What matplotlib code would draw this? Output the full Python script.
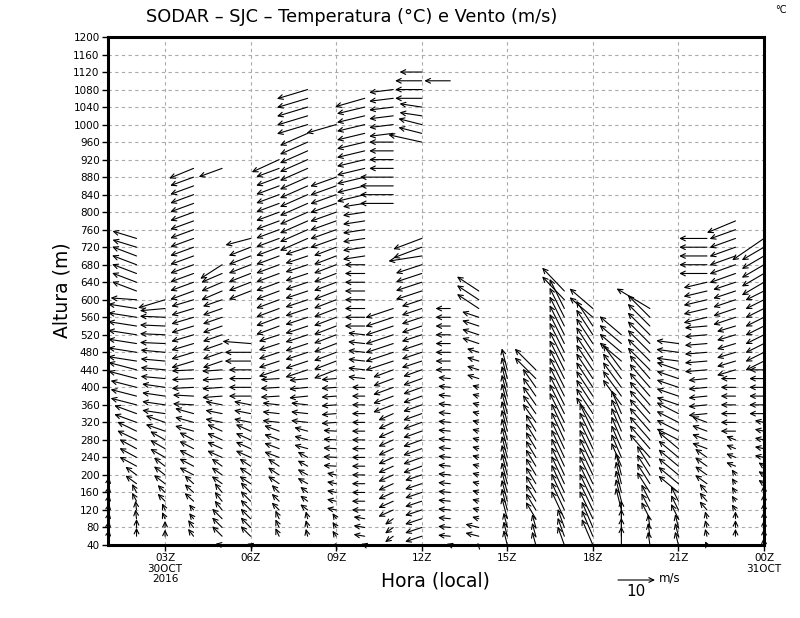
import numpy as np
import matplotlib.pyplot as plt

# perfis de vento do SODAR: (base, topo, u, v) em m/s, niveis a cada 20 m
h01 = [(60, 180, 0.3, 1.8)]
h02 = [(60, 80, 0.0, 2.3), (100, 120, -0.3, 2.5), (140, 160, -1.2, 2.3), (180, 200, -3.0, 2.2),
       (220, 260, -4.6, 2.5), (280, 300, -5.2, 2.5), (320, 340, -6.0, 2.2), (360, 400, -7.0, 1.8),
       (420, 440, -7.6, 2.0), (460, 580, -7.7, 1.2), (600, 600, -7.0, 0.5), (620, 700, -6.6, 2.5),
       (720, 740, -6.5, 2.0)]
h03 = [(60, 80, 0.0, 1.8), (100, 120, -0.8, 1.8), (140, 160, -2.0, 2.0), (180, 220, -3.0, 2.3),
       (240, 280, -4.0, 2.3), (300, 320, -5.2, 1.8), (340, 400, -6.2, 0.9), (420, 480, -6.6, 0.6),
       (500, 560, -6.8, 0.3), (580, 580, -6.8, -0.6), (600, 600, -7.3, -2.2)]
h04 = [(60, 80, -1.5, 2.0), (100, 120, -1.2, 1.5), (140, 180, -2.4, 2.2), (200, 280, -3.8, 2.0),
       (300, 340, -5.0, 1.4), (360, 380, -5.6, 0.3), (400, 440, -5.9, -0.3), (460, 600, -6.0, -1.8),
       (620, 880, -6.3, -2.3), (900, 900, -6.6, -2.7)]
h05 = [(40, 40, -1.8, 0.3), (60, 100, -2.7, 2.7), (120, 160, -2.0, 2.5), (180, 220, -2.8, 2.0),
       (240, 300, -4.0, 1.8), (320, 360, -4.5, 0.9), (380, 440, -5.4, -0.4), (460, 600, -5.2, -1.8),
       (620, 660, -5.6, -2.4), (680, 680, -5.9, -3.8), (900, 900, -6.3, -2.3)]
h06 = [(40, 40, -1.0, 0.3), (60, 160, -2.7, 2.7), (180, 220, -3.0, 2.0), (240, 300, -4.0, 1.8),
       (320, 360, -4.5, 0.9), (380, 440, -5.9, 0.0), (460, 480, -7.0, 0.0), (500, 500, -7.6, 0.6),
       (620, 720, -5.9, -2.3), (740, 740, -6.8, -1.8)]
h07 = [(60, 100, -1.0, 2.2), (120, 160, -2.0, 2.0), (180, 220, -3.0, 2.0), (240, 300, -4.0, 1.5),
       (320, 360, -4.5, 0.5), (380, 420, -5.0, -0.3), (440, 520, -5.5, -1.8), (540, 900, -6.2, -2.3),
       (920, 920, -7.4, -3.4)]
h08 = [(60, 100, -0.5, 2.0), (120, 160, -2.0, 1.5), (180, 240, -2.7, 1.5), (260, 300, -3.6, 1.0),
       (320, 360, -4.5, 0.5), (380, 420, -5.0, -0.5), (440, 720, -6.0, -2.0), (740, 980, -7.5, -3.3),
       (1000, 1080, -8.3, -2.5)]
h09 = [(40, 40, -0.5, 0.5), (60, 100, -1.0, 1.5), (120, 200, -2.5, 0.5), (220, 300, -3.5, 0.2),
       (320, 420, -4.0, -0.3), (440, 720, -6.0, -2.3), (740, 880, -7.0, -2.5), (1000, 1000, -8.0, -2.3)]
h10 = [(40, 40, -1.0, 0.3), (60, 100, -3.0, 0.5), (120, 400, -3.5, 0.0), (420, 520, -4.5, 0.5),
       (540, 680, -5.4, 0.0), (700, 820, -5.9, -0.9), (840, 1040, -7.5, -1.8), (1060, 1060, -8.0, -2.3)]
h11 = [(60, 100, -2.2, -1.6), (120, 340, -4.0, -1.8), (360, 440, -5.4, -2.0), (460, 580, -7.5, -2.5),
       (820, 880, -9.0, 0.0), (900, 960, -6.5, 0.0), (980, 1080, -6.5, -0.8)]
h12 = [(60, 200, -4.5, -1.5), (220, 440, -5.0, -1.8), (460, 600, -5.4, -1.8), (620, 680, -7.0, -2.3),
       (700, 700, -9.0, -1.4), (720, 740, -7.7, -2.9), (960, 960, -9.0, 2.0), (980, 1000, -6.3, 1.6),
       (1020, 1040, -6.0, 0.9), (1060, 1100, -7.2, 0.0), (1120, 1120, -6.0, 0.0)]
h13 = [(40, 40, -1.0, 0.3), (60, 420, -3.3, 0.3), (440, 580, -4.0, 0.0), (1100, 1100, -7.0, 0.0)]
h14 = [(40, 40, -0.5, 0.5), (60, 80, -3.6, 0.9), (100, 400, -1.8, 0.5), (420, 480, -3.2, 1.0),
       (500, 560, -4.5, 1.5), (580, 620, -5.9, 3.9)]
h15 = [(40, 80, -1.0, 4.0), (100, 440, -1.5, 5.8)]
h16 = [(40, 80, -1.0, 3.6), (100, 300, -2.7, 4.5), (320, 400, -3.5, 5.0), (420, 440, -5.7, 5.7)]
h17 = [(40, 80, -1.8, 5.0), (100, 300, -3.5, 7.5), (320, 580, -4.0, 8.0), (600, 620, -6.0, 6.3)]
h18 = [(40, 80, -3.0, 7.0), (100, 300, -3.6, 7.5), (320, 540, -4.5, 6.8), (560, 580, -6.3, 5.4)]
h19 = [(40, 100, 0.0, 5.0), (120, 200, -1.5, 6.0), (220, 340, -2.7, 6.3), (360, 440, -5.0, 6.8),
       (460, 520, -5.9, 5.0)]
h20 = [(40, 80, -0.5, 3.6), (100, 140, -2.3, 4.5), (160, 220, -3.5, 5.5), (240, 420, -5.5, 6.3),
       (440, 560, -6.0, 6.0), (580, 580, -9.0, 5.4)]
h21 = [(40, 80, -0.9, 3.6), (100, 140, -2.0, 4.0), (160, 260, -5.4, 4.5), (280, 340, -5.9, 3.0),
       (360, 440, -5.9, 2.0), (460, 500, -6.0, 0.8)]
h22 = [(40, 40, -0.5, 1.0), (60, 100, -0.5, 2.0), (120, 160, -2.0, 2.3), (180, 240, -3.2, 2.3),
       (260, 320, -4.0, 1.5), (340, 420, -5.0, -0.5), (440, 540, -6.0, -0.5), (560, 640, -6.3, -1.5),
       (660, 740, -7.5, 0.0)]
h23 = [(60, 100, 0.0, 2.0), (120, 200, -1.0, 1.5), (220, 280, -2.5, 1.0), (300, 420, -4.0, 0.0),
       (440, 540, -5.0, -1.5), (560, 640, -6.0, -2.0), (660, 760, -7.0, -2.5), (780, 780, -7.7, -3.2)]
h24 = [(40, 160, 0.0, 2.0), (180, 220, -1.5, 1.0), (240, 320, -2.5, 0.5), (340, 440, -4.0, 0.0),
       (460, 620, -5.0, -2.5), (640, 720, -6.0, -3.5), (740, 740, -8.6, -5.9)]

colunas = [h01, h02, h03, h04, h05, h06, h07, h08, h09, h10, h11, h12,
           h13, h14, h15, h16, h17, h18, h19, h20, h21, h22, h23, h24]
horas = list(range(1, 25))

xticks = [3, 6, 9, 12, 15, 18, 21, 24]
xlabels = ['03Z\n30OCT\n2016', '06Z', '09Z', '12Z', '15Z', '18Z', '21Z', '00Z\n31OCT']
yticks = list(range(40, 1201, 40))

px_ms = 3.7  # pixels por m/s (seta de referencia de 10 m/s)

fig = plt.figure(figsize=(8, 6.18), dpi=100)
ax = fig.add_axes([108/800, 73/618, 656/800, 508/618])
ax.set_xlim(1, 24)
ax.set_ylim(40, 1200)

ax.set_xticks(xticks)
ax.set_xticklabels(xlabels, fontsize=7.5, linespacing=1.05)
ax.set_yticks(yticks)
ax.set_yticklabels([str(t) for t in yticks], fontsize=7.5)
ax.tick_params(direction='out', length=4, width=1, pad=2)
ax.grid(True, color='#aaaaaa', linestyle=(0, (3, 3)), linewidth=0.8)
ax.set_axisbelow(True)
for s in ax.spines.values():
    s.set_linewidth(2.2)

seta = dict(arrowstyle='<-,head_length=0.35,head_width=0.17', color='black',
            lw=0.8, shrinkA=0, shrinkB=0, mutation_scale=10)

for hr, col in zip(horas, colunas):
    for base, topo, u, v in col:
        for z in range(base, topo + 1, 20):
            ax.annotate('', xy=(hr, z), xytext=(u * px_ms, v * px_ms),
                        textcoords='offset pixels', arrowprops=seta,
                        annotation_clip=False)

# seta de referencia
ax.annotate('', xy=(618, 618 - 580), xycoords='figure pixels',
            xytext=(10 * px_ms, 0), textcoords='offset pixels', arrowprops=seta,
            annotation_clip=False)
fig.text(636/800, 1 - 591/618, '10', fontsize=11, ha='center', va='center')
fig.text(659/800, 1 - 578/618, 'm/s', fontsize=8.5, ha='left', va='center')

fig.text(352/800, 1 - 17/618, 'SODAR \u2013 SJC \u2013 Temperatura (\u00b0C) e Vento (m/s)',
         fontsize=12.8, ha='center', va='center')
fig.text(781/800, 1 - 10/618, '\u00b0C', fontsize=7, ha='center', va='center')
fig.text(62/800, 1 - 290/618, 'Altura (m)', fontsize=13.5, rotation=90, ha='center', va='center')
fig.text(435/800, 1 - 581/618, 'Hora (local)', fontsize=13.5, ha='center', va='center')

fig.savefig('out.png', dpi=100)
